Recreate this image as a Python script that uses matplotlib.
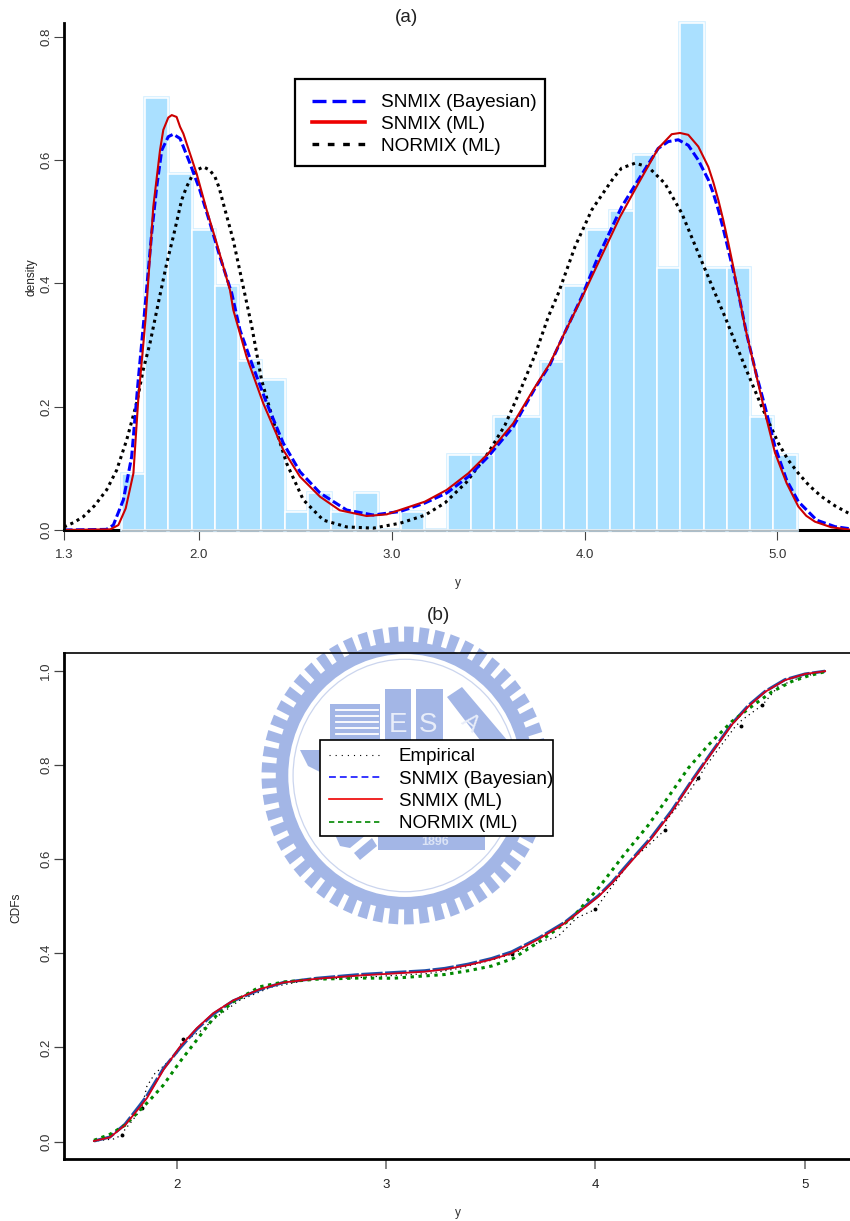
import numpy as np
import matplotlib
matplotlib.use('Agg')
import matplotlib.pyplot as plt
from matplotlib.lines import Line2D
from matplotlib.patches import Ellipse, Polygon, Rectangle

plt.rcParams['font.family'] = ['Liberation Sans', 'DejaVu Sans']

W, H = 850, 1221

# ---- panel (a): histogram
bin_lo, bin_hi = 1.6, 5.1
hist = [0.091, 0.701, 0.577, 0.487, 0.396, 0.274, 0.243, 0.030, 0.0605, 0.030,
        0.0605, 0.0, 0.030, 0.0, 0.1216, 0.1216, 0.1838, 0.1838, 0.273, 0.396,
        0.487, 0.517, 0.608, 0.4255, 0.822, 0.4255, 0.4255, 0.183, 0.1216]

# ---- panel (a): densities
red_x = [1.3, 1.54, 1.582, 1.62, 1.66, 1.685, 1.705, 1.724, 1.745, 1.763, 1.798, 1.815, 1.841, 1.859, 1.884,
         1.902, 1.919, 1.953, 1.988, 2.04, 2.092, 2.161, 2.178, 2.247, 2.334, 2.437, 2.524,
         2.628, 2.73, 2.87, 2.974, 3.172, 3.285, 3.397, 3.50, 3.63, 3.743, 3.82, 3.90, 3.985,
         4.07, 4.184, 4.279, 4.382, 4.452, 4.495, 4.538, 4.59, 4.642, 4.668, 4.694, 4.72, 4.746, 4.772, 4.798,
         4.832, 4.884, 4.936, 4.988, 5.048, 5.109, 5.15, 5.195, 5.28, 5.377]
red_y = [0.0, 0.001, 0.008, 0.035, 0.092, 0.211, 0.279, 0.346, 0.44, 0.524, 0.616, 0.649, 0.669, 0.673, 0.670,
         0.654, 0.643, 0.611, 0.578, 0.519, 0.465, 0.389, 0.357, 0.281, 0.205, 0.130, 0.0865,
         0.054, 0.032, 0.0227, 0.0254, 0.046, 0.065, 0.092, 0.124, 0.173, 0.232, 0.27, 0.322, 0.376,
         0.4325, 0.508, 0.562, 0.619, 0.642, 0.644, 0.641, 0.622, 0.589, 0.564, 0.535, 0.502, 0.465, 0.426, 0.384,
         0.33, 0.26, 0.19, 0.125, 0.076, 0.038, 0.023, 0.0135, 0.0044, 0.0005]

blue_x = [1.3, 1.52, 1.556, 1.608, 1.651, 1.685, 1.711, 1.755, 1.781, 1.807, 1.841, 1.867, 1.902,
          1.953, 2.005, 2.057, 2.109, 2.17, 2.213, 2.28, 2.351, 2.437, 2.524, 2.628, 2.766, 2.904,
          3.043, 3.172, 3.285, 3.397, 3.50, 3.63, 3.743, 3.82, 3.90, 3.985, 4.07, 4.192, 4.279,
          4.382, 4.434, 4.486, 4.538, 4.59, 4.642, 4.668, 4.694, 4.72, 4.746, 4.772, 4.798, 4.84, 4.892, 4.936, 4.988,
          5.048, 5.109, 5.204, 5.299, 5.377]
blue_y = [0.0, 0.001, 0.008, 0.049, 0.119, 0.243, 0.33, 0.482, 0.557, 0.616, 0.638, 0.642, 0.635,
          0.595, 0.551, 0.498, 0.443, 0.384, 0.324, 0.265, 0.206, 0.141, 0.0945, 0.06, 0.0324, 0.0243,
          0.03, 0.0438, 0.06, 0.0865, 0.119, 0.1676, 0.23, 0.268, 0.322, 0.378, 0.443, 0.524, 0.568,
          0.619, 0.63, 0.633, 0.624, 0.60, 0.568, 0.546, 0.519, 0.488, 0.454, 0.42, 0.384, 0.319, 0.251, 0.2, 0.135,
          0.081, 0.046, 0.016, 0.0054, 0.002]

norm_x = [1.3, 1.35, 1.40, 1.46, 1.521, 1.573, 1.625, 1.677, 1.711, 1.746, 1.789, 1.833, 1.867, 1.91, 1.935, 1.962,
          1.99, 2.023, 2.055, 2.083, 2.105, 2.126, 2.178, 2.239, 2.274, 2.325, 2.394, 2.455, 2.541, 2.645, 2.766,
          2.904, 3.043, 3.172, 3.276, 3.389, 3.50, 3.587, 3.674, 3.743, 3.812, 3.864, 3.951, 4.037, 4.106, 4.15,
          4.192, 4.262, 4.33, 4.417, 4.504, 4.59, 4.677, 4.728, 4.832, 4.919, 5.005, 5.055, 5.109, 5.165, 5.23,
          5.3, 5.368]
norm_y = [0.005, 0.012, 0.0216, 0.04, 0.065, 0.097, 0.146, 0.206, 0.26, 0.303, 0.368, 0.433, 0.476, 0.535, 0.556, 0.573,
          0.584, 0.589, 0.584, 0.573, 0.555, 0.53, 0.47, 0.381, 0.33, 0.243, 0.1676, 0.108, 0.049, 0.016, 0.005,
          0.003, 0.011, 0.024, 0.044, 0.078, 0.125, 0.17, 0.232, 0.284, 0.346, 0.384, 0.46, 0.519, 0.551, 0.571,
          0.587, 0.595, 0.589, 0.562, 0.514, 0.449, 0.384, 0.346, 0.265, 0.2, 0.141, 0.114, 0.092, 0.072, 0.054,
          0.039, 0.0275]

# ---- panel (b): CDFs
cred_x = [1.605, 1.681, 1.753, 1.825, 1.857, 1.936, 2.016, 2.096, 2.175, 2.27, 2.398, 2.509, 2.669,
          2.876, 3.186, 3.282, 3.393, 3.505, 3.60, 3.728, 3.855, 4.014, 4.08, 4.142, 4.205, 4.269, 4.365, 4.46,
          4.556, 4.652, 4.731, 4.811, 4.906, 5.002, 5.098]
cred_y = [0.0015, 0.0093, 0.035, 0.074, 0.092, 0.152, 0.202, 0.241, 0.273, 0.30, 0.324, 0.338, 0.346,
          0.353, 0.361, 0.366, 0.375, 0.387, 0.40, 0.43, 0.464, 0.52, 0.549, 0.58, 0.612, 0.644, 0.70, 0.764,
          0.825, 0.885, 0.924, 0.955, 0.98, 0.993, 0.999]
cblue_y = [0.0015, 0.010, 0.037, 0.078, 0.097, 0.155, 0.199, 0.239, 0.271, 0.299, 0.323, 0.338, 0.347,
           0.355, 0.363, 0.368, 0.377, 0.389, 0.403, 0.432, 0.466, 0.522, 0.551, 0.583, 0.615, 0.647, 0.703, 0.766,
           0.827, 0.887, 0.926, 0.956, 0.981, 0.993, 0.999]

cgreen_x = [1.605, 1.681, 1.753, 1.809, 1.872, 1.936, 2.016, 2.096, 2.175, 2.27, 2.398, 2.509, 2.669,
            2.876, 3.035, 3.186, 3.282, 3.393, 3.505, 3.607, 3.744, 3.887, 4.014, 4.142, 4.253, 4.349,
            4.444, 4.54, 4.652, 4.747, 4.843, 4.938, 5.018, 5.098]
cgreen_y = [0.003, 0.0157, 0.035, 0.06, 0.0885, 0.12, 0.17, 0.216, 0.262, 0.297, 0.329, 0.339, 0.345,
            0.3475, 0.347, 0.352, 0.355, 0.363, 0.373, 0.389, 0.428, 0.474, 0.538, 0.612, 0.672, 0.732,
            0.793, 0.842, 0.892, 0.924, 0.955, 0.977, 0.989, 0.998]

emp_x = [1.60, 1.70, 1.737, 1.753, 1.79, 1.833, 1.857, 1.896, 1.936, 2.0, 2.03, 2.072, 2.111, 2.2, 2.3,
         2.45, 2.65, 2.85, 3.0, 3.2, 3.35, 3.5, 3.6, 3.74, 3.82, 3.911, 3.999, 4.078, 4.174, 4.246,
         4.333, 4.341, 4.444, 4.492, 4.532, 4.668, 4.70, 4.798, 4.873, 4.97, 5.1]
emp_y = [0.001, 0.006, 0.014, 0.026, 0.046, 0.071, 0.117, 0.145, 0.16, 0.188, 0.218, 0.223, 0.234, 0.268, 0.30,
         0.328, 0.345, 0.348, 0.352, 0.357, 0.368, 0.385, 0.398, 0.425, 0.435, 0.475, 0.493, 0.541, 0.598, 0.626,
         0.662, 0.683, 0.74, 0.772, 0.80, 0.881, 0.895, 0.927, 0.966, 0.984, 1.0]
dots_x = [1.737, 1.833, 2.03, 3.6, 3.999, 4.333, 4.492, 4.696, 4.798]
dots_y = [0.014, 0.071, 0.218, 0.398, 0.493, 0.662, 0.772, 0.8825, 0.927]


def box(left, right, top, bottom):
    return [left / W, 1 - bottom / H, (right - left) / W, (bottom - top) / H]


def pad_legend(ax, handles, labels, x, y, rect, fs, spacing, hlen, gap, lw):
    # white box first, then a frameless legend on top of it
    fx = lambda p: p / W
    fy = lambda p: 1 - p / H
    ax.add_patch(Rectangle((fx(rect[0]), fy(rect[3])), (rect[1] - rect[0]) / W, (rect[3] - rect[2]) / H,
                           transform=fig.transFigure, facecolor='white', edgecolor='black',
                           linewidth=lw, zorder=9, clip_on=False))
    fs_px = fs * 100 / 72
    leg = ax.legend(handles, labels, loc='upper left', bbox_to_anchor=(fx(x), fy(y)),
                    bbox_transform=fig.transFigure, frameon=False, fontsize=fs, borderpad=0,
                    borderaxespad=0, handlelength=hlen / fs_px, handletextpad=gap / fs_px,
                    labelspacing=spacing)
    leg.set_zorder(10)


fig = plt.figure(figsize=(W / 100, H / 100), dpi=100)

# ---- watermark behind panel (b)
bg = fig.add_axes([0, 0, 1, 1], zorder=-1)
bg.set_xlim(0, W)
bg.set_ylim(H, 0)
bg.axis('off')
logo = '#A3B6E6'
cx, cy, rx, ry = 405, 775.5, 143.5, 149
n_teeth = 57
for a in np.linspace(0, 2 * np.pi, n_teeth, endpoint=False):
    da = np.pi / n_teeth * 0.62
    bg.add_patch(Polygon([(cx + rx * 0.88 * np.cos(a - da), cy + ry * 0.88 * np.sin(a - da)),
                          (cx + rx * np.cos(a - da), cy + ry * np.sin(a - da)),
                          (cx + rx * np.cos(a + da), cy + ry * np.sin(a + da)),
                          (cx + rx * 0.88 * np.cos(a + da), cy + ry * 0.88 * np.sin(a + da))],
                         facecolor=logo, edgecolor='none'))
bg.add_patch(Ellipse((cx, cy), 2 * rx * 0.857, 2 * ry * 0.857, fill=False, edgecolor=logo, linewidth=9))
bg.add_patch(Ellipse((cx, cy), 2 * rx * 0.78, 2 * ry * 0.78, fill=False, edgecolor='#CBD5EE', linewidth=0.9))
bg.add_patch(Rectangle((330, 704), 50, 36, facecolor=logo))
for yy in [710, 716, 722, 728, 734]:
    bg.plot([336, 378], [yy, yy], color='white', lw=1.3)
bg.add_patch(Rectangle((385, 689), 26, 51, facecolor=logo))
bg.add_patch(Rectangle((416, 689), 27, 51, facecolor=logo))
bg.add_patch(Polygon([(447, 697), (462, 687), (507, 740), (480, 740)], facecolor=logo))
bg.text(398, 725, 'E', color='#E8EDF9', fontsize=20, ha='center', va='center')
bg.text(428, 725, 'S', color='#E8EDF9', fontsize=20, ha='center', va='center')
bg.text(470, 723, 'A', color='#E8EDF9', fontsize=17, ha='center', va='center', rotation=-40)
bg.add_patch(Polygon([(300, 750), (320, 750), (320, 772), (308, 766)], facecolor=logo))
bg.add_patch(Rectangle((378, 830), 107, 20, facecolor=logo))
bg.text(435, 842, '1896', color='#DCE4F6', fontsize=9, ha='center', va='center', fontweight='bold')
bg.add_patch(Polygon([(333, 830), (372, 830), (350, 848), (340, 846)], facecolor=logo))
bg.add_patch(Polygon([(354, 853), (372, 838), (377, 846), (360, 860)], facecolor=logo))

# ---- panel (a)
ax1 = fig.add_axes(box(64, 850, 23, 530))
ax1.set_facecolor('none')
ax1.set_xlim(1.3, 1.3 + 786 / 192.8)
ax1.set_ylim(0, 507 / 616.5)

edges = np.linspace(bin_lo, bin_hi, len(hist) + 1)
bw = edges[1] - edges[0]
ax1.bar(edges[:-1], hist, width=bw, align='edge', color='#AAE0FF', edgecolor='#D2EEFF',
        linewidth=2.6, zorder=2, clip_on=False)
ax1.bar(edges[:-1], hist, width=bw, align='edge', color='#AAE0FF', edgecolor='white',
        linewidth=1.1, zorder=2.1, clip_on=False)
ax1.plot([bin_lo, bin_hi], [0, 0], color='#B4BCC0', lw=1.0, zorder=2.2, clip_on=False)

ax1.plot(norm_x, norm_y, color='black', lw=2.2, linestyle=(0, (1, 1.3)), zorder=3)
ax1.plot(blue_x, blue_y, color='#0000FF', lw=2.2, linestyle=(0, (2.8, 1.1)), zorder=3.1)
ax1.plot(red_x, red_y, color='#CC0000', lw=1.5, zorder=3.2)

for s in ['top', 'right']:
    ax1.spines[s].set_visible(False)
ax1.spines['left'].set_linewidth(2.0)
ax1.spines['left'].set_zorder(6)
ax1.spines['bottom'].set_linewidth(2.2)
ax1.spines['bottom'].set_zorder(1)

ax1.set_xticks([1.3, 2.0, 3.0, 4.0, 5.0], ['1.3', '2.0', '3.0', '4.0', '5.0'])
ax1.set_yticks([0.0, 0.2, 0.4, 0.6, 0.8], ['0.0', '0.2', '0.4', '0.6', '0.8'])
ax1.tick_params(axis='x', length=7.5, width=0.8, color='#444444', labelsize=9.5, labelcolor='#333333', pad=6.5)
ax1.tick_params(axis='y', length=7.5, width=0.8, color='#444444', labelsize=9.5, labelcolor='#333333', pad=1)
for t in ax1.get_yticklabels():
    t.set_rotation(90)
    t.set_va('center')
fig.text(458 / W, 1 - 583 / H, 'y', fontsize=8.6, color='#333333', ha='center', va='center')
fig.text(32 / W, 1 - 276.7 / H, 'density', fontsize=8.6, color='#222222', rotation=90, ha='center', va='center')
fig.text(407 / W, 1 - 17 / H, '(a)', fontsize=13.7, color='#222222', ha='center', va='center')

handles_a = [Line2D([], [], color='#0000FF', lw=2.4, linestyle=(0, (4.2, 1.8))),
             Line2D([], [], color='#EE0000', lw=2.6),
             Line2D([], [], color='black', lw=2.4, linestyle=(0, (2.0, 2.6)))]
pad_legend(ax1, handles_a, ['SNMIX (Bayesian)', 'SNMIX (ML)', 'NORMIX (ML)'],
           312, 94, (294.5, 545, 79, 166), 13.7, 0.23, 53, 16, 1.6)

# ---- panel (b)
ax2 = fig.add_axes(box(64, 850, 653.3, 1159.3))
ax2.set_facecolor('none')
ax2.set_xlim(2 - 112.7 / 209.3, 2 + (850 - 176.7) / 209.3)
ax2.set_ylim(-17.6 / 471, (1141.7 - 653.3) / 471)

ax2.plot(emp_x, emp_y, color='black', lw=0.9, linestyle=(0, (1, 3)), zorder=3)
ax2.plot(dots_x, dots_y, linestyle='none', marker='o', ms=1.8, color='black', zorder=3)
ax2.plot(cred_x, cblue_y, color='#1F4FA8', lw=2.2, linestyle=(0, (7, 0.8)), zorder=3.1)
ax2.plot(cgreen_x, cgreen_y, color='#008800', lw=2.2, linestyle=(0, (1.1, 1.5)), zorder=3.2)
ax2.plot(cred_x, cred_y, color='#D4001A', lw=1.3, zorder=3.3)

ax2.spines['right'].set_visible(False)
ax2.spines['left'].set_linewidth(2.0)
ax2.spines['bottom'].set_linewidth(2.0)
ax2.spines['top'].set_linewidth(1.2)

ax2.set_xticks([2, 3, 4, 5], ['2', '3', '4', '5'])
ax2.set_yticks([0.0, 0.2, 0.4, 0.6, 0.8, 1.0], ['0.0', '0.2', '0.4', '0.6', '0.8', '1.0'])
ax2.tick_params(axis='x', length=7.5, width=1.1, color='#666666', labelsize=9.5, labelcolor='#222222', pad=6.5)
ax2.tick_params(axis='y', length=7.5, width=0.9, color='#444444', labelsize=9.5, labelcolor='#333333', pad=1)
for t in ax2.get_yticklabels():
    t.set_rotation(90)
    t.set_va('center')
fig.text(458 / W, 1 - 1212.7 / H, 'y', fontsize=8.6, color='#333333', ha='center', va='center')
fig.text(16 / W, 1 - 908 / H, 'CDFs', fontsize=8.6, color='#222222', rotation=90, ha='center', va='center')
fig.text(438 / W, 1 - 616 / H, '(b)', fontsize=13.7, color='#222222', ha='center', va='center')

handles_b = [Line2D([], [], color='black', lw=0.8, linestyle=(0, (1, 4.5))),
             Line2D([], [], color='#0000FF', lw=1.1, linestyle=(0, (4.5, 2.6))),
             Line2D([], [], color='#EE0000', lw=1.2),
             Line2D([], [], color='#008800', lw=1.2, linestyle=(0, (3.2, 2.2)))]
pad_legend(ax2, handles_b, ['Empirical', 'SNMIX (Bayesian)', 'SNMIX (ML)', 'NORMIX (ML)'],
           329, 748, (319.7, 553.3, 740, 835.7), 13.5, 0.28, 52.5, 17.5, 1.2)

fig.savefig('out.png', dpi=100)
